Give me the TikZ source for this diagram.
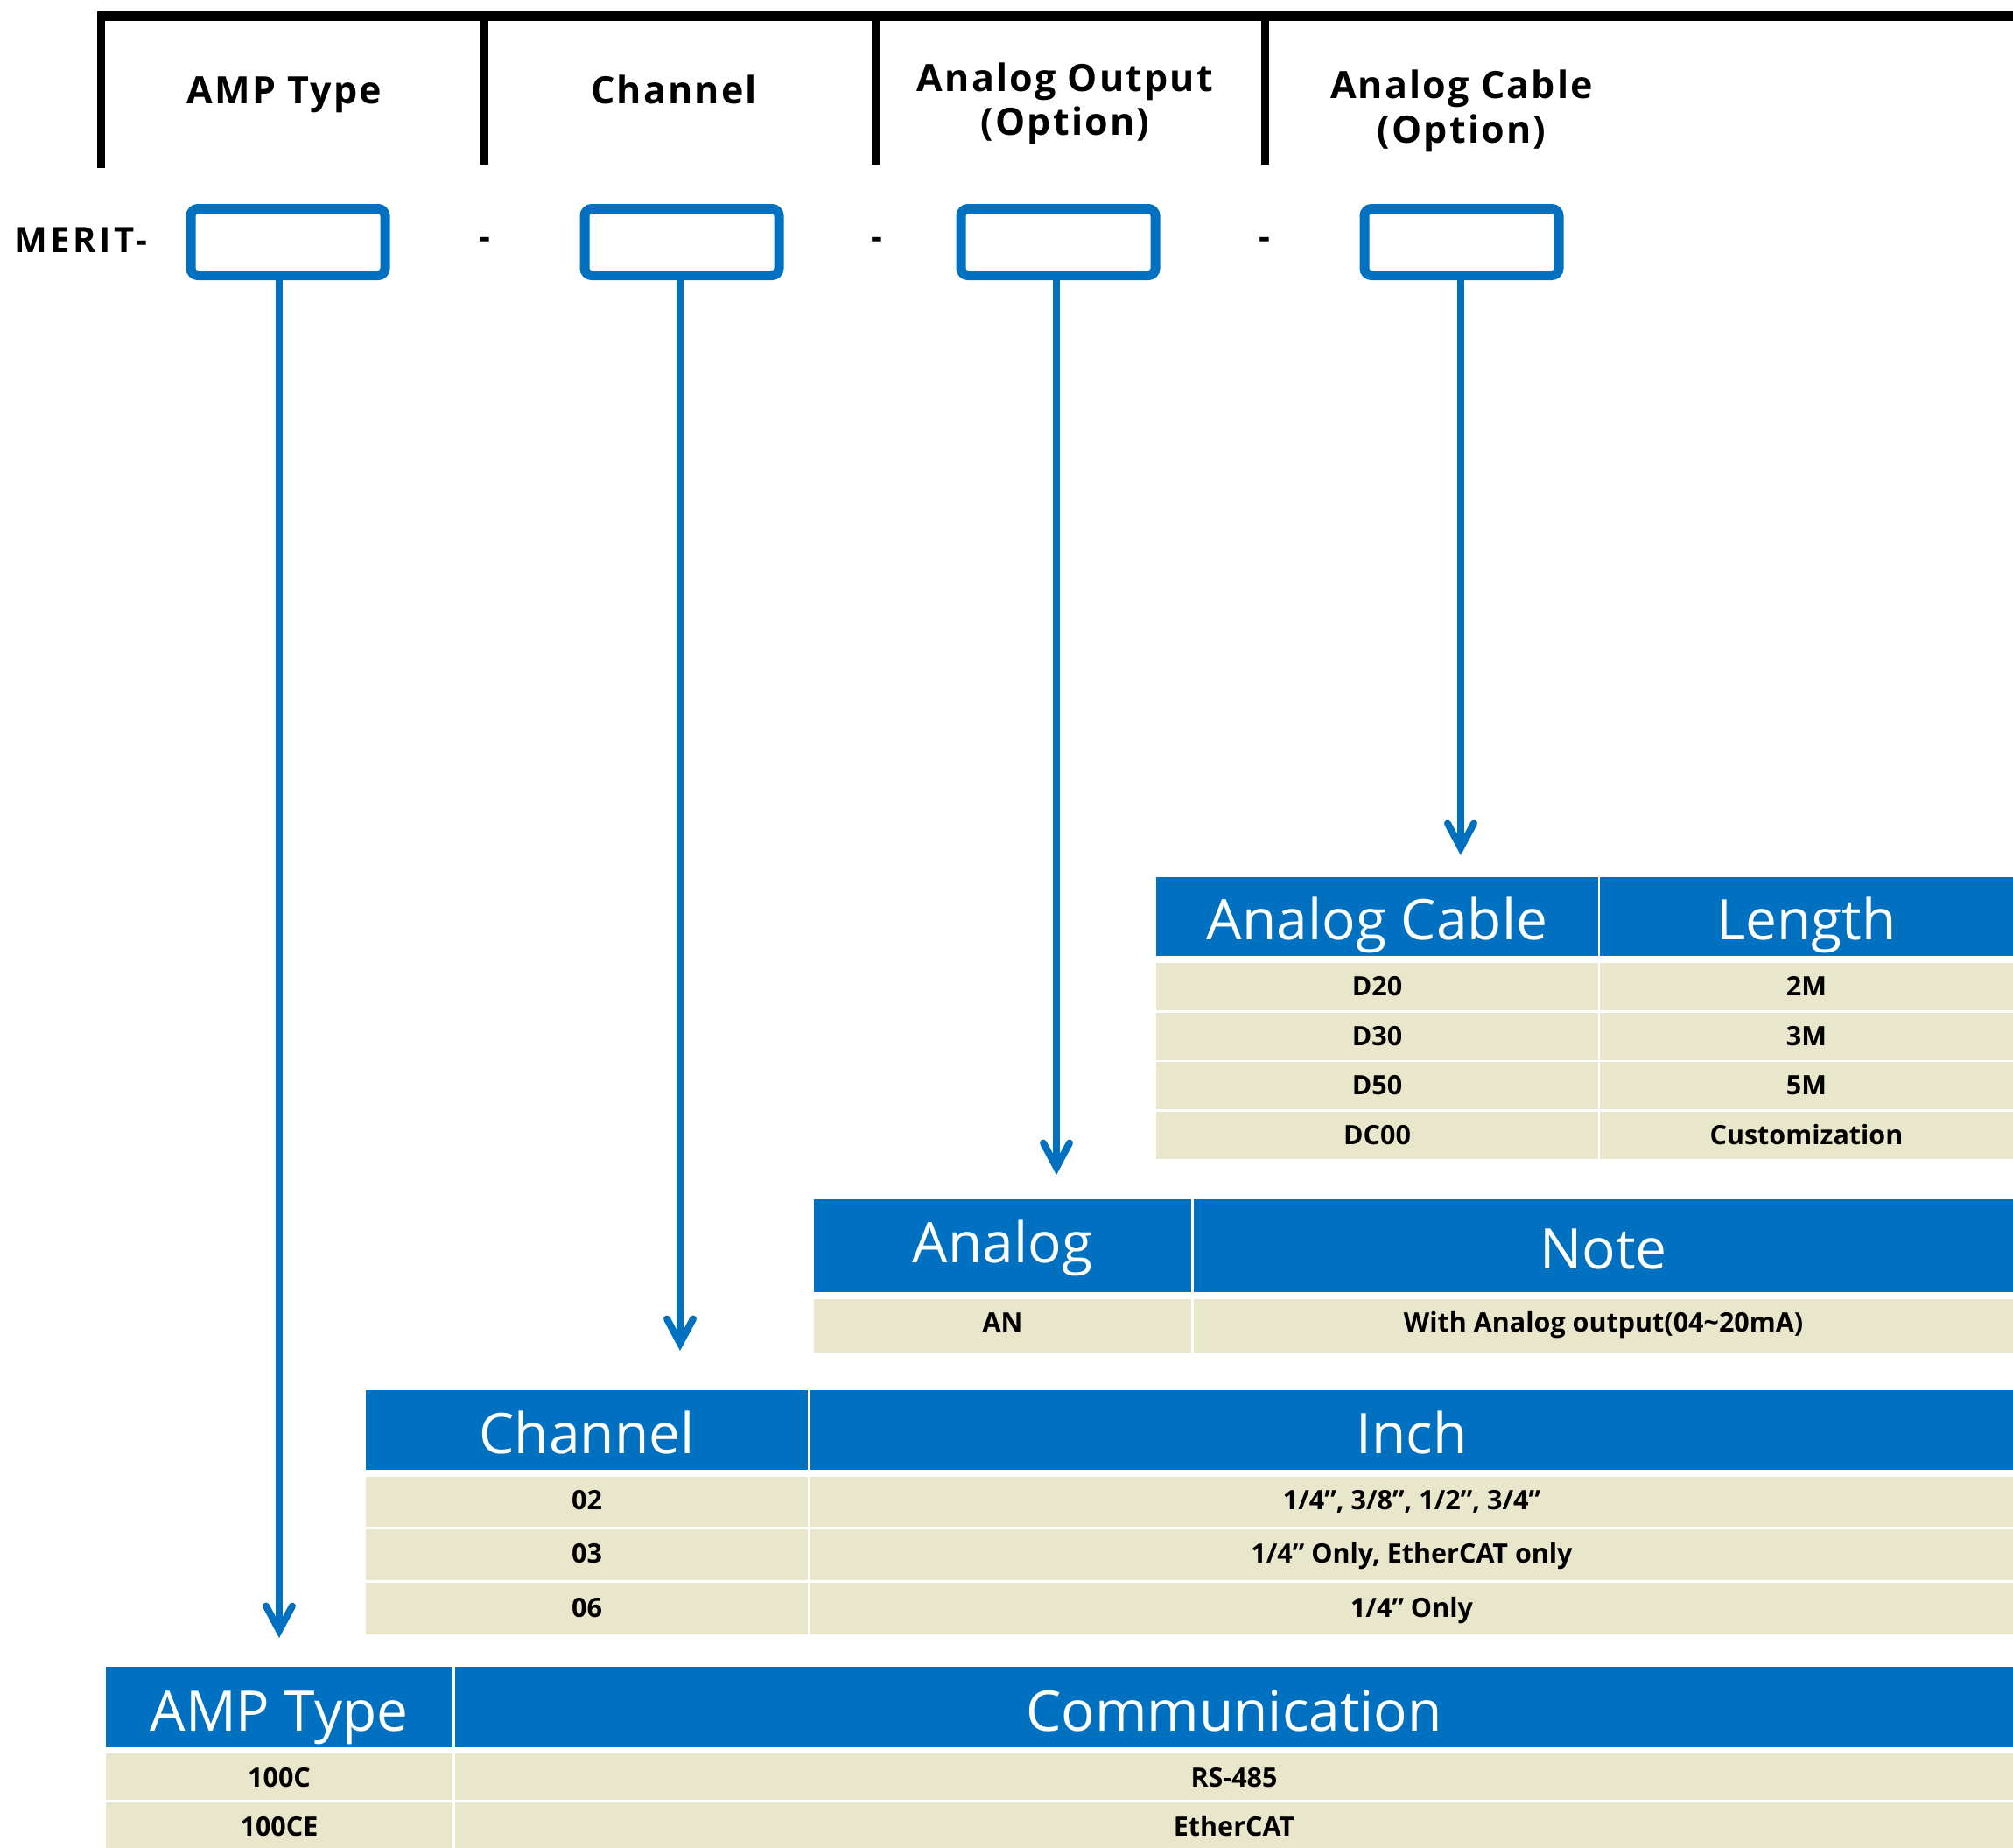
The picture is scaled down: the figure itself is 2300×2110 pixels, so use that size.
\documentclass[tikz,border=0pt]{standalone}
\usepackage{fontspec}
\setmainfont{Open Sans}
\usetikzlibrary{arrows.meta}
\definecolor{mblue}{RGB}{0,112,192}
\definecolor{mbeige}{RGB}{233,231,203}
\newcommand\tophfont{\fontsize{43}{50}\selectfont\bfseries\addfontfeatures{LetterSpace=5}}
\newcommand\thfont{\fontsize{64}{70}\selectfont}
\newcommand\trfont{\fontsize{30.5}{36}\selectfont\bfseries}
\newcommand\meritfont{\fontsize{40}{48}\selectfont\bfseries\addfontfeatures{LetterSpace=9}}
\begin{document}
\begin{tikzpicture}[x=1pt,y=-1pt,
  toph/.style={font=\tophfont, anchor=base, inner sep=0pt},
  merit/.style={font=\meritfont, inner sep=0pt},
  selbox/.style={draw=mblue, line width=11pt, rounded corners=8pt, minimum width=222pt, minimum height=76pt, inner sep=0pt},
  conn/.style={draw=mblue, line width=8pt, -{Straight Barb[length=28pt,width=30pt,line cap=round,line join=miter]}},
  hdr/.style={fill=mblue},
  rowc/.style={fill=mbeige},
  htext/.style={font=\thfont, text=white, anchor=base, inner sep=0pt},
  rtext/.style={font=\trfont, anchor=base, inner sep=0pt}]
\useasboundingbox (0,0) rectangle (2300,2110);
% top frame
\draw[line width=11pt] (111,18.5) -- (2300,18.5);
\draw[line width=9pt] (115.5,13) -- (115.5,192);
\draw[line width=9pt] (553.5,13) -- (553.5,188);
\draw[line width=9pt] (1000,13) -- (1000,188);
\draw[line width=9pt] (1445,13) -- (1445,188);
% top headers
\node[toph] (h1) at (325,118) {AMP Type};
\node[toph] (h2) at (770,118) {Channel};
\node[toph] (h3a) at (1217,104) {Analog Output};
\node[toph] (h3b) at (1217,154) {(Option)};
\node[toph] (h4a) at (1670,112) {Analog Cable};
\node[toph] (h4b) at (1670,163) {(Option)};
% code line
\node[merit, anchor=base west] (merit) at (16,288) {MERIT-};
\node[merit, anchor=base] (d1) at (554,284) {-};
\node[merit, anchor=base] (d2) at (1002,284) {-};
\node[merit, anchor=base] (d3) at (1445,284) {-};
\node[selbox] (b1) at (329,276.5) {};
\node[selbox] (b2) at (779,276.5) {};
\node[selbox] (b3) at (1209,276.5) {};
\node[selbox] (b4) at (1670,276.5) {};
% arrows
\coordinate (e1) at (319,1871);
\coordinate (e2) at (777,1543);
\coordinate (e3) at (1207,1342);
\coordinate (e4) at (1669,977);
\draw[conn] (b1.south -| e1) -- (e1);
\draw[conn] (b2.south -| e2) -- (e2);
\draw[conn] (b3.south -| e3) -- (e3);
\draw[conn] (b4.south -| e4) -- (e4);
% table 4: Analog Cable
\fill[hdr] (1321,1002) rectangle (1826,1092);
\fill[hdr] (1828,1002) rectangle (2300,1092);
\node[htext] (t4h1) at (1573.5,1073) {Analog Cable};
\node[htext] (t4h2) at (2064,1073) {Length};
\foreach \t in {1100,1156.7,1213.3,1270}{
  \fill[rowc] (1321,\t) rectangle (1826,\t+54);
  \fill[rowc] (1828,\t) rectangle (2300,\t+54);
}
\node[rtext] (t4r1a) at (1573.5,1137.5) {D20};
\node[rtext] (t4r1b) at (2064,1137.5) {2M};
\node[rtext] (t4r2a) at (1573.5,1194.2) {D30};
\node[rtext] (t4r2b) at (2064,1194.2) {3M};
\node[rtext] (t4r3a) at (1573.5,1250.8) {D50};
\node[rtext] (t4r3b) at (2064,1250.8) {5M};
\node[rtext] (t4r4a) at (1573.5,1307.5) {DC00};
\node[rtext] (t4r4b) at (2064,1307.5) {Customization};
% table 3: Analog
\fill[hdr] (930,1370) rectangle (1361,1476);
\fill[hdr] (1364,1370) rectangle (2300,1476);
\node[htext] (t3h1) at (1145.5,1442) {Analog};
\node[htext] (t3h2) at (1832,1449) {Note};
\fill[rowc] (930,1484) rectangle (1361,1545);
\fill[rowc] (1364,1484) rectangle (2300,1545);
\node[rtext] (t3r1a) at (1145.5,1521) {AN};
\node[rtext] (t3r1b) at (1832,1521) {With Analog output(04\textasciitilde20mA)};
% table 2: Channel
\fill[hdr] (418,1588) rectangle (923,1679);
\fill[hdr] (926,1588) rectangle (2300,1679);
\node[htext] (t2h1) at (670.5,1660) {Channel};
\node[htext] (t2h2) at (1613,1660) {Inch};
\fill[rowc] (418,1687) rectangle (923,1743.5);
\fill[rowc] (926,1687) rectangle (2300,1743.5);
\fill[rowc] (418,1746.5) rectangle (923,1805);
\fill[rowc] (926,1746.5) rectangle (2300,1805);
\fill[rowc] (418,1807.5) rectangle (923,1866.5);
\fill[rowc] (926,1807.5) rectangle (2300,1866.5);
\node[rtext] (t2r1a) at (670.5,1724) {02};
\node[rtext] (t2r1b) at (1613,1724) {1/4”, 3/8”, 1/2”, 3/4”};
\node[rtext] (t2r2a) at (670.5,1785.5) {03};
\node[rtext] (t2r2b) at (1613,1785.5) {1/4” Only, EtherCAT only};
\node[rtext] (t2r3a) at (670.5,1847) {06};
\node[rtext] (t2r3b) at (1613,1847) {1/4” Only};
% table 1: AMP Type
\fill[hdr] (121,1904) rectangle (517,1996);
\fill[hdr] (520,1904) rectangle (2300,1996);
\node[htext] (t1h1) at (319,1977) {AMP Type};
\node[htext] (t1h2) at (1410,1977) {Communication};
\fill[rowc] (121,2003) rectangle (517,2056);
\fill[rowc] (520,2003) rectangle (2300,2056);
\fill[rowc] (121,2058.5) rectangle (517,2112);
\fill[rowc] (520,2058.5) rectangle (2300,2112);
\node[rtext] (t1r1a) at (319,2041) {100C};
\node[rtext] (t1r1b) at (1410,2041) {RS-485};
\node[rtext] (t1r2a) at (319,2097) {100CE};
\node[rtext] (t1r2b) at (1410,2097) {EtherCAT};
\end{tikzpicture}
\end{document}
